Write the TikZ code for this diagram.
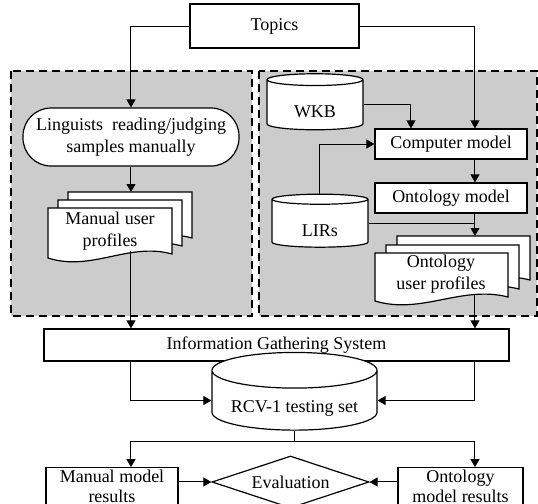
\documentclass[tikz,border=0pt]{standalone}
\usepackage{fontspec}
\setmainfont{Liberation Serif}
\usepackage{tikz}
\usetikzlibrary{%
  shapes.geometric,%
  arrows.meta,%
  calc%
}

\tikzset{
	box/.style={draw, line width=0.6pt, fill=white, inner sep=1pt, align=center},
	pill/.style={box, rounded corners=14pt},
	db/.style={cylinder, shape border rotate=90, draw, line width=0.6pt, fill=white, aspect=0.28, inner sep=0pt},
	dia/.style={diamond, draw, line width=0.6pt, fill=white, inner sep=0pt, aspect=3},
	page/.style={draw, line width=0.6pt, fill=white},
	panel/.style={draw, line width=0.6pt, fill=black!20, dash pattern=on 4pt off 2.5pt},
	arr/.style={-{Triangle[width=4.5pt,length=4pt]}, line width=0.5pt},
	result/.style={box, minimum height=18pt, font=\fontsize{9}{10}\selectfont}
}

% one page of a document stack: x, y (top left), width, height
\newcommand{\docpage}[4]{%
	\draw[page] (#1,#2) -- ({#1+#3},#2) -- ({#1+#3},{#2+#4-4})
		.. controls ({#1+0.65*#3},{#2+#4-16}) and ({#1+0.35*#3},{#2+#4+14}) .. (#1,{#2+#4}) -- cycle;}

\begin{document}
\begin{tikzpicture}[x=0.5pt,y=-0.5pt,font=\fontsize{9}{11}\selectfont]
	\useasboundingbox (0,0) rectangle (538,504);
	%Panels
	\draw[panel] (11,71) rectangle (252,316);
	\draw[panel] (259,71) rectangle (537,316);
	%Columns
	\coordinate (lcol) at (131,0);
	\coordinate (rcol) at (475,0);
	\coordinate (wcol) at (411,0);
	\coordinate (mupin) at (131,192);
	\coordinate (oupin) at (475,236);
	\coordinate (split) at (294.5,442);
	%Pages
	\docpage{68}{192}{124}{50}
	\docpage{58}{200}{124}{50}
	\docpage{48}{208}{124}{50}
	\docpage{397}{236}{133}{48}
	\docpage{386}{245}{133}{48}
	\docpage{375}{253}{133}{48}
	%Nodes
	\node[box, minimum width=84.5pt, minimum height=22pt] (top) at (274.5,26) {Topics};
	\node[pill, minimum width=108pt, minimum height=29pt] (ling) at (131,137) {Linguists~ reading/judging\\samples manually};
	\node[align=center, minimum width=62pt, minimum height=20pt, inner sep=0pt] (mup) at (110,231) {Manual user\\profiles};
	\node[db, minimum width=48pt, minimum height=28pt, text height=12.3pt, text depth=-6pt] (wkb) at (315,105) {WKB};
	\node[db, minimum width=48pt, minimum height=26.5pt, text height=13.3pt, text depth=-7pt] (lirs) at (320,223.5) {LIRs};
	\node[box, minimum width=76pt, minimum height=15pt] (cm) at (451,144) {Computer model};
	\node[box, minimum width=76pt, minimum height=15pt] (om) at (451,198) {Ontology model};
	\node[align=center, minimum width=66pt, minimum height=19pt, inner sep=0pt] (oup) at (441,274) {Ontology\\user profiles};
	\node[box, minimum width=232.5pt, minimum height=16pt] (igs) at (276.5,345) {Information Gathering System};
	\node[db, minimum width=82.5pt, minimum height=27.5pt, text height=11.8pt, text depth=-5.5pt] (rcv) at (294.5,400.5) {RCV-1 testing set};
	\node[dia, minimum width=78.5pt, minimum height=26pt] (ev) at (290.5,482) {Evaluation};
	\node[result, minimum width=66pt] (mmr) at (112,486) {Manual model\\results};
	\node[result, minimum width=62.5pt] (omr) at (460.5,486) {Ontology\\model results};
	%Top arrows
	\draw[arr] (top.west) -| (ling.north);
	\draw[arr] (top.east) -| (cm.north -| rcol);
	\draw[arr] (wkb.east) -| (cm.north -| wcol);
	\draw[arr] (lirs.north) |- (cm.west);
	\draw[arr] (cm.south -| rcol) -- (om.north -| rcol);
	\draw[arr] (om.south -| rcol) -- (oupin);
	\draw (lirs.east) -- (lirs.east -| rcol);
	\draw[arr] (ling.south) -- (mupin);
	%Bottom arrows
	\draw[arr] (mup.south -| lcol) -- (igs.north -| lcol);
	\draw[arr] (oup.south -| rcol) -- (igs.north -| rcol);
	\draw[arr] (igs.south -| lcol) |- (rcv.west);
	\draw[arr] (igs.south -| rcol) |- (rcv.east);
	\draw[arr] (rcv.south) -- (split) -| (mmr.north -| lcol);
	\draw[arr] (split) -| (omr.north -| rcol);
	\draw[arr] (mmr.east |- ev.west) -- (ev.west);
	\draw[arr] (omr.west |- ev.east) -- (ev.east);
\end{tikzpicture}
\end{document}
